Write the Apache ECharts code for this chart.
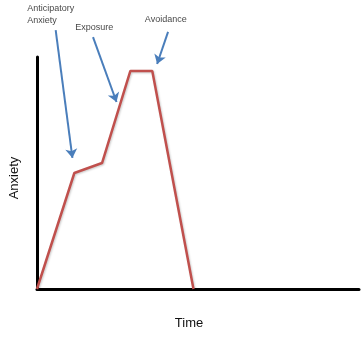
<!DOCTYPE html>
<html>
<head>
<meta charset="utf-8">
<script src="https://cdn.jsdelivr.net/npm/echarts@6/dist/echarts.min.js"></script>
<style>
  html, body { margin: 0; padding: 0; background: #fff; }
  #chart { width: 364px; height: 338px; }
</style>
</head>
<body>
<div id="chart"></div>
<script>
// Anxiety curve over time (arbitrary units)
const timePoints = [0, 11.6, 20.2, 29, 35.8, 48.6];
const anxietyLevels = [0, 50, 54.3, 94, 94, 0];

// Annotation labels, where their text sits, and where their arrows run
const noteLabels = ['Anticipatory\nAnxiety', 'Exposure', 'Avoidance'];
const noteTextAt = [[-3.0, 118.5], [11.9, 112.5], [33.5, 116]];
const arrowFrom = [[5.8, 111.6], [17.4, 108.6], [40.7, 110.8]];
const arrowTo = [[11.0, 56.5], [24.7, 80.6], [37.3, 97]];

const chart = echarts.init(document.getElementById('chart'));

const curve = timePoints.map((t, i) => [t, anxietyLevels[i]]);
const arrows = arrowFrom.map((p, i) => ({ coords: [p, arrowTo[i]] }));
const notes = noteLabels.map((txt, i) => ({ value: noteTextAt[i], label: { formatter: txt } }));

chart.setOption({
  animation: false,
  grid: { left: 32, right: 5, top: 57, bottom: 49 },
  xAxis: {
    type: 'value', min: 0, max: 100,
    name: 'Time', nameLocation: 'middle', nameGap: 28,
    nameTextStyle: { fontFamily: 'Liberation Sans', fontSize: 13, color: '#111', padding: [0, 18, 0, 0] },
    axisLine: { show: true, onZero: false, lineStyle: { color: '#000', width: 3 } },
    axisTick: { show: false }, axisLabel: { show: false }, splitLine: { show: false }
  },
  yAxis: {
    type: 'value', min: 0, max: 100,
    name: 'Anxiety', nameLocation: 'middle', nameGap: 16, nameRotate: 90,
    nameTextStyle: { fontFamily: 'Liberation Sans', fontSize: 13, color: '#111', padding: [0, 10, 0, 0] },
    axisLine: { show: true, onZero: false, lineStyle: { color: '#000', width: 3 } },
    axisTick: { show: false }, axisLabel: { show: false }, splitLine: { show: false }
  },
  series: [
    {
      type: 'line',
      data: curve,
      symbol: 'none',
      z: 5,
      lineStyle: {
        color: '#c0504d', width: 2.5,
        shadowColor: 'rgba(0,0,0,0.2)', shadowBlur: 2, shadowOffsetX: 1, shadowOffsetY: 1
      }
    },
    {
      type: 'lines',
      coordinateSystem: 'cartesian2d',
      clip: false,
      z: 6,
      symbol: ['none', 'arrow'],
      symbolSize: 9,
      lineStyle: { color: '#4a7ebb', width: 2, opacity: 1, curveness: 0 },
      data: arrows
    },
    {
      type: 'scatter',
      clip: false,
      symbolSize: 0,
      silent: true,
      z: 7,
      label: {
        show: true, position: 'right', distance: 0,
        fontFamily: 'Liberation Sans', fontSize: 9, color: '#111', lineHeight: 12,
        align: 'left'
      },
      data: notes
    }
  ]
});
</script>
</body>
</html>
